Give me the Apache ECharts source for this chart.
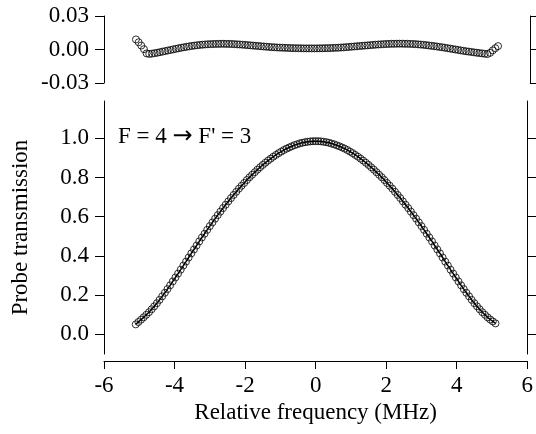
<!DOCTYPE html>
<html>
<head>
<meta charset="utf-8">
<script src="https://cdn.jsdelivr.net/npm/echarts@6/dist/echarts.min.js"></script>
<style>html,body{margin:0;padding:0;background:#fff}#c{width:536px;height:434px}</style>
</head>
<body>
<div id="c"></div>
<script>
// Relative frequency (MHz)
const freq = [-5.1,-5.025,-4.95,-4.875,-4.8,-4.725,-4.65,-4.575,-4.5,-4.425,-4.35,-4.275,-4.2,-4.125,-4.05,-3.975,-3.9,-3.825,-3.75,-3.675,-3.6,-3.525,-3.45,-3.375,-3.3,-3.225,-3.15,-3.075,-3,-2.925,-2.85,-2.775,-2.7,-2.625,-2.55,-2.475,-2.4,-2.325,-2.25,-2.175,-2.1,-2.025,-1.95,-1.875,-1.8,-1.725,-1.65,-1.575,-1.5,-1.425,-1.35,-1.275,-1.2,-1.125,-1.05,-0.975,-0.9,-0.825,-0.75,-0.675,-0.6,-0.525,-0.45,-0.375,-0.3,-0.225,-0.15,-0.075,0,0.075,0.15,0.225,0.3,0.375,0.45,0.525,0.6,0.675,0.75,0.825,0.9,0.975,1.05,1.125,1.2,1.275,1.35,1.425,1.5,1.575,1.65,1.725,1.8,1.875,1.95,2.025,2.1,2.175,2.25,2.325,2.4,2.475,2.55,2.625,2.7,2.775,2.85,2.925,3,3.075,3.15,3.225,3.3,3.375,3.45,3.525,3.6,3.675,3.75,3.825,3.9,3.975,4.05,4.125,4.2,4.275,4.35,4.425,4.5,4.575,4.65,4.725,4.8,4.875,4.95,5.025,5.1];
// Probe transmission (data points, fit drawn through the same values)
const transmission = [0.051,0.063,0.075,0.087,0.100,0.113,0.128,0.143,0.159,0.176,0.194,0.212,0.231,0.250,0.270,0.290,0.310,0.330,0.351,0.371,0.392,0.413,0.433,0.453,0.474,0.494,0.513,0.533,0.552,0.571,0.590,0.608,0.626,0.644,0.661,0.678,0.695,0.711,0.727,0.743,0.758,0.772,0.787,0.801,0.814,0.827,0.840,0.852,0.864,0.875,0.886,0.896,0.906,0.915,0.924,0.932,0.940,0.947,0.953,0.959,0.965,0.969,0.974,0.977,0.980,0.982,0.984,0.985,0.985,
0.985,0.984,0.982,0.980,0.977,0.973,0.969,0.964,0.959,0.953,0.947,0.940,0.932,0.924,0.915,0.906,0.896,0.886,0.875,0.864,0.852,0.840,0.827,0.814,0.801,0.787,0.772,0.758,0.743,0.727,0.711,0.695,0.678,0.661,0.644,0.626,0.608,0.590,0.571,0.552,0.533,0.513,0.494,0.474,0.453,0.433,0.413,0.392,0.371,0.351,0.330,0.310,0.290,0.270,0.250,0.231,0.212,0.194,0.176,0.159,0.143,0.128,0.113,0.100,0.087,0.076,0.066,0.056];
// Fit residuals
const residual = [0.0090,0.0065,0.0035,0.0003,-0.0035,-0.0040,-0.0037,
-0.0033,-0.0029,-0.0024,-0.0019,-0.0014,-0.0009,-0.0004,0.0001,0.0006,0.0011,
0.0016,0.0020,0.0024,0.0028,0.0032,0.0035,0.0038,0.0041,0.0043,0.0045,
0.0047,0.0048,0.0049,0.0050,0.0050,0.0051,0.0051,0.0050,0.0050,0.0049,
0.0048,0.0046,0.0045,0.0043,0.0041,0.0039,0.0037,0.0035,0.0033,0.0031,
0.0029,0.0027,0.0025,0.0023,0.0021,0.0020,0.0018,0.0017,0.0016,0.0015,
0.0014,0.0013,0.0012,0.0012,0.0011,0.0011,0.0010,0.0010,0.0010,0.0010,
0.0010,0.0010,0.0011,0.0011,0.0012,0.0012,0.0013,0.0014,0.0015,0.0016,
0.0018,0.0019,0.0021,0.0023,0.0025,0.0027,0.0029,0.0031,0.0033,0.0035,
0.0037,0.0039,0.0041,0.0043,0.0045,0.0046,0.0048,0.0049,0.0050,0.0051,
0.0051,0.0052,0.0052,0.0052,0.0051,0.0051,0.0050,0.0049,0.0048,0.0046,
0.0044,0.0042,0.0039,0.0036,0.0033,0.0030,0.0027,0.0023,0.0020,0.0016,
0.0012,0.0008,0.0004,0.0000,-0.0004,-0.0008,-0.0012,-0.0016,-0.0019,-0.0022,
-0.0026,-0.0029,-0.0032,-0.0035,-0.0038,-0.0041,-0.0030,-0.0008,0.0012,0.0030];
// Tick values
const residualTicks = [-0.03, 0, 0.03];
const transmissionTicks = [0, 0.2, 0.4, 0.6, 0.8, 1.0];
const freqTicks = [-6, -4, -2, 0, 2, 4, 6];
const annotationLeft = "F = 4 ";
const annotationArrow = "\u2192";
const annotationRight = " F' = 3";
const xTitle = "Relative frequency (MHz)";
const yTitle = "Probe transmission";

const FONT = '"Liberation Serif", "Times New Roman", serif';
const FS = 23;
const black = '#000';

const mainPts = freq.map((x, i) => [x, transmission[i]]);
const resPts = freq.map((x, i) => [x, residual[i]]);

const chart = echarts.init(document.getElementById('c'), null, {renderer: 'canvas'});
const lineAx = () => ({show: true, onZero: false, lineStyle: {color: black, width: 1}});
const tickOut = (len) => ({show: true, inside: false, length: len, lineStyle: {color: black, width: 1}});

chart.setOption({
  animation: false,
  backgroundColor: '#fff',
  textStyle: {fontFamily: FONT, color: black},
  grid: [
    {left: 104, width: 426, top: 16, height: 67},
    {left: 104, width: 426, top: 101, height: 253}
  ],
  xAxis: [
    {gridIndex: 0, type: 'value', min: freqTicks[0], max: freqTicks[freqTicks.length - 1], show: false},
    {gridIndex: 1, type: 'value', min: freqTicks[0], max: freqTicks[freqTicks.length - 1], interval: 2,
     offset: 7, position: 'bottom',
     axisLine: lineAx(), axisTick: tickOut(8),
     axisLabel: {fontFamily: FONT, fontSize: FS, color: black, margin: 13, formatter: v => String(v)},
     splitLine: {show: false},
     name: xTitle, nameLocation: 'middle', nameGap: 40,
     nameTextStyle: {fontFamily: FONT, fontSize: FS, color: black}}
  ],
  yAxis: [
    {gridIndex: 0, type: 'value', min: residualTicks[0], max: residualTicks[2], interval: 0.03,
     axisLine: lineAx(), axisTick: tickOut(9),
     axisLabel: {fontFamily: FONT, fontSize: FS, color: black, margin: 15, formatter: v => v.toFixed(2)},
     splitLine: {show: false}},
    {gridIndex: 0, type: 'value', position: 'right', min: residualTicks[0], max: residualTicks[2], interval: 0.03,
     axisLine: lineAx(), axisTick: tickOut(9), axisLabel: {show: false}, splitLine: {show: false}},
    {gridIndex: 1, type: 'value', min: -0.1, max: 1.19,
     axisLine: lineAx(), axisTick: Object.assign(tickOut(9), {customValues: transmissionTicks}),
     axisLabel: {fontFamily: FONT, fontSize: FS, color: black, margin: 15, customValues: transmissionTicks, formatter: v => v.toFixed(1)},
     splitLine: {show: false},
     name: yTitle, nameLocation: 'middle', nameRotate: 90, nameGap: 72,
     nameTextStyle: {fontFamily: FONT, fontSize: FS, color: black}},
    {gridIndex: 1, type: 'value', position: 'right', min: -0.1, max: 1.19,
     axisLine: lineAx(), axisTick: Object.assign(tickOut(9), {customValues: transmissionTicks}),
     axisLabel: {show: false, customValues: transmissionTicks}, splitLine: {show: false}}
  ],
  graphic: [
    {type: 'text', left: 118, top: 125, style: {
      text: '{t|' + annotationLeft + '}{a|' + annotationArrow + '}{t|' + annotationRight + '}',
      rich: {
        t: {fontFamily: FONT, fontSize: FS, color: black},
        a: {fontFamily: '"DejaVu Sans", sans-serif', fontSize: 24, color: black}
      }
    }}
  ],
  series: [
    {type: 'scatter', xAxisIndex: 0, yAxisIndex: 0, data: resPts, symbol: 'circle', symbolSize: 7,
     itemStyle: {color: 'rgba(255,255,255,0)', borderColor: black, borderWidth: 1}, z: 2},
    {type: 'scatter', xAxisIndex: 1, yAxisIndex: 2, data: mainPts, symbol: 'circle', symbolSize: 7,
     itemStyle: {color: 'rgba(255,255,255,0)', borderColor: black, borderWidth: 1}, z: 2},
    {type: 'line', xAxisIndex: 1, yAxisIndex: 2, data: mainPts, showSymbol: false, symbol: 'none',
     lineStyle: {color: black, width: 1.5}, z: 3}
  ]
});
</script>
</body>
</html>
